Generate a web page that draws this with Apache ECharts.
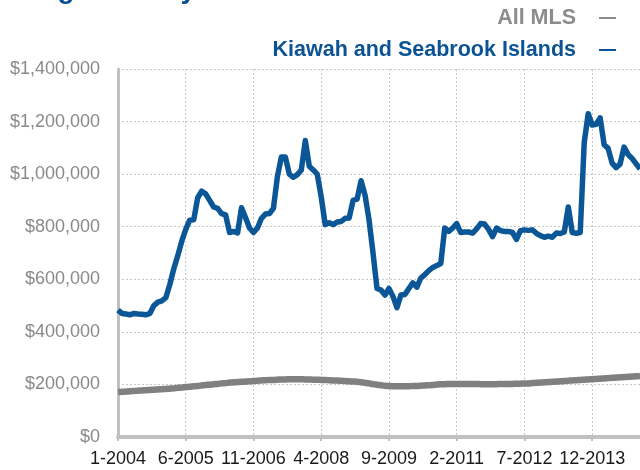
<!DOCTYPE html>
<html>
<head>
<meta charset="utf-8">
<script src="https://cdn.jsdelivr.net/npm/echarts@6/dist/echarts.min.js"></script>
<style>html,body{margin:0;padding:0;background:#fff;}#c{width:640px;height:470px;}</style>
</head>
<body>
<div id="c"></div>
<script>
// Monthly categories, starting 1-2004
var startYear = 2004, monthCount = 132;
var categories = [];
for (var k = 0; k < monthCount; k++) {
  categories.push(((k % 12) + 1) + '-' + (startYear + Math.floor(k / 12)));
}

// Values in thousands of dollars
var allMLS = [
  171,172,173,174,175,176,177,178,179,180,181,182,183,184,185,187,188,190,
  191,193,194,196,198,199,201,202,204,205,207,208,
  209,210,211,212,213,214,215,216,217,217,218,219,219,220,220,220,
  220,219,219,218,218,217,217,216,215,215,214,213,212,211,210,208,206,
  204,201,199,197,195,194,193,193,193,193,193,194,194,
  195,196,197,198,200,201,201,202,202,202,202,202,202,202,202,
  201,201,201,201,201,202,202,202,202,203,203,204,204,205,206,207,208,209,210,211,
  212,213,214,215,216,217,218,219,220,221,222,223,224,225,226,227,228,229,230,231,232
];

var kiawah = [
  483,470,468,465,470,468,467,465,470,500,
  513,518,530,580,640,690,745,790,825,826,
  910,935,925,900,875,870,850,845,778,782,
  776,872,835,795,778,795,832,848,850,870,
  990,1065,1065,1000,988,998,1015,1128,1030,1016,
  1000,913,808,815,808,818,820,832,833,900,
  905,975,920,826,700,565,559,540,565,535,
  492,540,542,565,586,570,605,618,633,645,
  652,660,795,782,795,812,778,780,780,776,
  792,812,810,790,762,795,785,782,782,778,
  752,785,788,786,788,775,766,760,764,760,
  776,774,780,875,778,775,778,1120,1230,1187,
  1190,1214,1112,1098,1042,1025,1038,1103,1075,1060,
  1040,1020
];

var seriesNames = ['All MLS', 'Kiawah and Seabrook Islands'];
var titleText = 'Single-Family Detached';

var chart = echarts.init(document.getElementById('c'), null, {renderer: 'canvas'});
var fmt = function (v) { return '$' + (v * 1000).toLocaleString('en-US'); };

chart.setOption({
  animation: false,
  backgroundColor: '#ffffff',
  graphic: [{
    type: 'text', left: 14, top: -24,
    style: {text: titleText, fill: '#0b4f8c', font: 'bold 28px "Liberation Sans"'}
  }],
  legend: {
    orient: 'vertical', right: 19, top: 2, align: 'right',
    itemWidth: 17, itemHeight: 2, itemGap: 10,
    icon: 'rect',
    textStyle: {fontFamily: '"Liberation Sans", Arial, sans-serif', fontWeight: 'bold', fontSize: 21.5, padding: [0, 18, 0, 0]},
    data: [
      {name: seriesNames[0], textStyle: {color: '#8c8c8c'}, itemStyle: {color: '#8c8c8c'}},
      {name: seriesNames[1], textStyle: {color: '#0b5394'}, itemStyle: {color: '#0b5394'}}
    ]
  },
  grid: {left: 118, right: -1, top: 69, bottom: 33, containLabel: false},
  xAxis: {
    type: 'category', data: categories, boundaryGap: false,
    axisLine: {lineStyle: {color: '#c0c0c0', width: 4}},
    axisTick: {alignWithLabel: true, interval: 16, length: 4, lineStyle: {color: '#c0c0c0', width: 2}},
    axisLabel: {interval: 16, color: '#1a1a1a', fontSize: 18, fontFamily: '"Liberation Sans", Arial, sans-serif', margin: 13},
    splitLine: {show: true, interval: 16, lineStyle: {color: '#c8c8c8', type: [2, 2], width: 1}}
  },
  yAxis: {
    type: 'value', min: 0, max: 1400, interval: 200,
    axisLine: {show: true, lineStyle: {color: '#c0c0c0', width: 3}},
    axisTick: {show: false},
    axisLabel: {formatter: fmt, color: '#8a8a8a', fontSize: 18, fontFamily: '"Liberation Sans", Arial, sans-serif', margin: 18},
    splitLine: {show: true, lineStyle: {color: '#c8c8c8', type: [2, 2], width: 1}}
  },
  series: [
    {name: seriesNames[0], type: 'line', data: allMLS, showSymbol: false, smooth: 0.3,
     lineStyle: {color: '#808080', width: 6.5}, itemStyle: {color: '#8c8c8c'}},
    {name: seriesNames[1], type: 'line', data: kiawah, showSymbol: false,
     lineStyle: {color: '#0b5697', width: 5.5, join: 'round'}, itemStyle: {color: '#0b5394'}}
  ]
});
</script>
</body>
</html>
